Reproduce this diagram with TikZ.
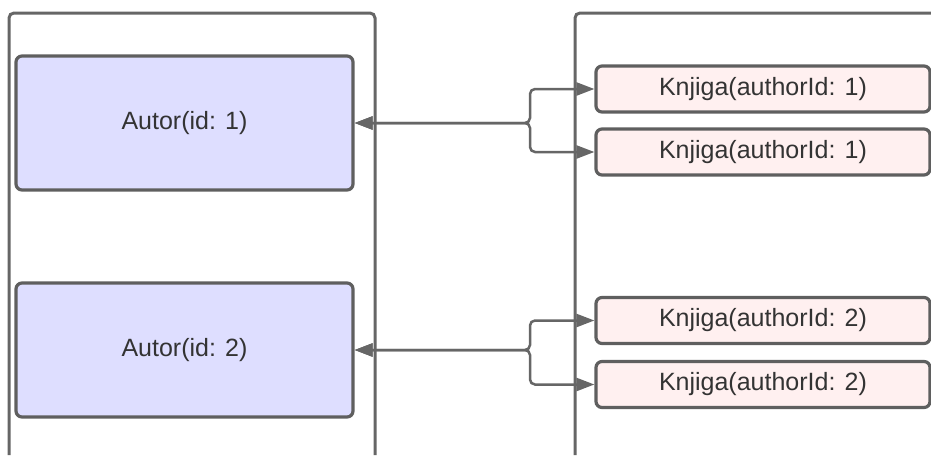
\documentclass[tikz,border=0pt]{standalone}
\usepackage{fontspec}
\setmainfont{Liberation Sans}
\usetikzlibrary{arrows.meta}

\definecolor{linija}{RGB}{102,102,102}
\definecolor{rub}{RGB}{95,95,95}
\definecolor{tekst}{RGB}{51,51,51}
\definecolor{autorfill}{RGB}{222,222,255}
\definecolor{knjigafill}{RGB}{255,240,240}

\begin{document}
\begin{tikzpicture}[x=1pt, y=-1pt,
    okvir/.style={draw=linija, line width=3pt, rounded corners=5pt},
    autor/.style={draw=rub, line width=3.2pt, fill=autorfill, rounded corners=6pt,
      minimum width=337pt, minimum height=134pt, text=tekst,
      font=\fontsize{25}{30}\selectfont},
    knjiga/.style={draw=rub, line width=3.2pt, fill=knjigafill, rounded corners=6pt,
      minimum width=334pt, minimum height=46pt, text=tekst,
      font=\fontsize{25}{30}\selectfont},
    veza/.style={draw=linija, line width=2.5pt, rounded corners=5pt,
      {Triangle[length=18pt,width=13pt]}-{Triangle[length=18pt,width=13pt]}}]
  \useasboundingbox (0,0) rectangle (931,455);

  % dvije tablice
  \draw[okvir] (9,455) -- (9,13) -- (375,13) -- (375,455);
  \draw[okvir] (575,455) -- (575,13) -- (940,13);

  \node[autor] at (184.5,123) (autor1) {Autor(id: 1)};
  \node[autor] at (184.5,350) (autor2) {Autor(id: 2)};

  \node[knjiga] at (763,89) (k1a) {Knjiga(authorId: 1)};
  \node[knjiga] at (763,152) (k1b) {Knjiga(authorId: 1)};
  \node[knjiga] at (763,320.5) (k2a) {Knjiga(authorId: 2)};
  \node[knjiga] at (763,384.5) (k2b) {Knjiga(authorId: 2)};

  \coordinate (j1) at (530,123);
  \coordinate (j2) at (530,350);

  \draw[veza] (autor1.east) -- (j1) |- (k1a.west);
  \draw[veza] (autor1.east) -- (j1) |- (k1b.west);
  \draw[veza] (autor2.east) -- (j2) |- (k2a.west);
  \draw[veza] (autor2.east) -- (j2) |- (k2b.west);

\end{tikzpicture}
\end{document}
